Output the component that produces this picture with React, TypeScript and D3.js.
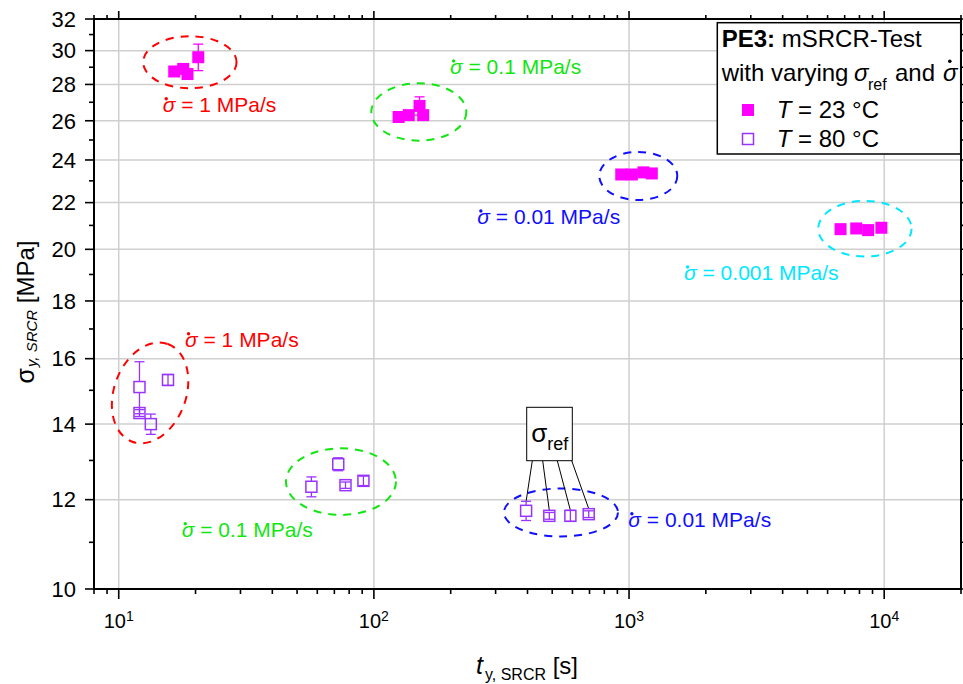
import React from 'react';
import * as d3 from 'd3';

// ---------- data ----------
const t23X = [16.5, 17.9, 18.6, 20.5, 125, 137, 151, 156, 932, 1026, 1139, 1228, 6745, 7770, 8650, 9750];
const t23Y = [28.75, 28.9, 28.6, 29.6, 26.2, 26.3, 26.8, 26.3, 23.3, 23.3, 23.4, 23.35, 20.84, 20.87, 20.8, 20.9];
const t23Err = [0.1, 0.1, 0.1, 0.8, 0.1, 0.1, 0.5, 0.1, 0.05, 0.05, 0.05, 0.05, 0.05, 0.05, 0.05, 0.05];

const t80X = [12.06, 12.06, 13.36, 15.6, 56.9, 72.5, 77.4, 91.0, 395, 487, 589, 695];
const t80Y = [15.1, 14.32, 14.0, 15.32, 12.32, 12.9, 12.36, 12.47, 11.73, 11.61, 11.61, 11.65];
const t80Err = [0.8, 0.1, 0.29, 0.17, 0.25, 0.17, 0.08, 0.12, 0.23, 0.08, 0.13, 0.08];

const yMajorTicks = [10, 12, 14, 16, 18, 20, 22, 24, 26, 28, 30, 32];
const yMinorTicks = [11, 13, 15, 17, 19, 21, 23, 25, 27, 29, 31];
const xDecades = [10, 100, 1000, 10000];
const xDecadeExp = ['1', '2', '3', '4'];

// group ellipses (centre in data units)
const ellCx = [19.0, 150, 1087, 8400, 13.27, 74.3, 541];
const ellCy = [29.3, 26.47, 23.23, 20.86, 14.92, 12.45, 11.69];
const ellColors = ['#ff0000', '#11e611', '#1010ff', '#00e8ff', '#ff0000', '#11e611', '#1010ff'];

const rateTexts = ['= 1 MPa/s', '= 0.1 MPa/s', '= 0.01 MPa/s', '= 0.001 MPa/s', '= 1 MPa/s', '= 0.1 MPa/s', '= 0.01 MPa/s'];

// ---------- layout / style ----------
const W = 963, H = 684;
const L = 94, R = 961, T = 19, B = 589;
const FONT = "'Liberation Sans', Arial, Helvetica, sans-serif";
const MAG = '#ff00ff';
const VIO = '#9933ff';
const ellR = [[46.7, 26, 0], [47.5, 28.7, 0], [39, 24, 0], [46.7, 27.8, 0], [52, 36, -70], [55, 33.3, 0], [57, 24, 0]];
const rateLabelPos = [[162.7, 111.7], [450, 74], [477.3, 224], [684, 280], [185, 346.7], [181.7, 536.7], [628.3, 526.7]];

const x = d3.scaleLog().domain([8, 20000]).range([L, R]);
const y = d3.scaleLog().domain([10, 32]).range([B, T]);

const xMinor = x.ticks().filter((v) => !xDecades.some((d) => Math.abs(d - v) < 1e-9));

function ErrBar({ cx, cy, e, color, half, cap = 5 }: any) {
  const yt = y(cy + e);
  const yb = y(cy - e);
  const py = y(cy);
  const px = x(cx);
  const segs: any[] = [];
  if (py - yt > half) {
    segs.push([yt, py - half]);
    segs.push([py + half, yb]);
  } else {
    segs.push([yt, yb]);
  }
  return (
    <g stroke={color} strokeWidth={1.3}>
      {segs.map((s, i) => (
        <line key={i} x1={px} x2={px} y1={s[0]} y2={s[1]} />
      ))}
      <line x1={px - cap} x2={px + cap} y1={yt} y2={yt} />
      <line x1={px - cap} x2={px + cap} y1={yb} y2={yb} />
    </g>
  );
}

function RateLabel({ px, py, color, text, fs = 21 }: any) {
  return (
    <g>
      <text x={px} y={py} fill={color} fontSize={fs} fontFamily={FONT}>
        <tspan fontStyle="italic">σ</tspan>
        <tspan> {text}</tspan>
      </text>
      <circle cx={px + 0.17 * fs} cy={py - 0.62 * fs} r={1.7} fill={color} />
    </g>
  );
}

export default function App() {
  const sz23 = 12;
  const sz80 = 11;
  const boxX = 526.7, boxY = 407.3, boxW = 45.6, boxH = 53.4;
  const leaderStarts = [5.6, 16, 30.6, 45];
  return (
    <svg
      width={W}
      height={H}
      viewBox={`0 0 ${W} ${H}`}
      style={{ position: 'absolute', left: 0, top: 0, display: 'block', background: '#fff' }}
      fontFamily={FONT}
    >
      <rect x={0} y={0} width={W} height={H} fill="#fff" />
      {/* grid */}
      <g stroke="#cfcfcf" strokeWidth={1.5}>
        {xDecades.map((d) => (
          <line key={d} x1={x(d)} x2={x(d)} y1={T} y2={B} />
        ))}
        {yMajorTicks.filter((v) => v !== 10 && v !== 32).map((v) => (
          <line key={v} x1={L} x2={R} y1={y(v)} y2={y(v)} />
        ))}
      </g>

      {/* ellipses */}
      {ellCx.map((c, i) => (
        <ellipse
          key={i}
          cx={0}
          cy={0}
          rx={ellR[i][0]}
          ry={ellR[i][1]}
          transform={`translate(${x(c)},${y(ellCy[i])}) rotate(${ellR[i][2]})`}
          fill="none"
          stroke={ellColors[i]}
          strokeWidth={2}
          strokeDasharray="8 7"
        />
      ))}

      {/* rate labels */}
      {rateTexts.map((t, i) => (
        <RateLabel key={i} px={rateLabelPos[i][0]} py={rateLabelPos[i][1]} color={ellColors[i]} text={t} />
      ))}

      {/* sigma_ref annotation */}
      <g stroke="#000" strokeWidth={1}>
        {leaderStarts.map((s, i) => {
          const idx = 8 + i;
          const ex = x(t80X[idx]);
          const ey = Math.min(y(t80Y[idx] + t80Err[idx]), y(t80Y[idx]) - sz80 / 2);
          return <line key={i} x1={boxX + s} y1={boxY + boxH} x2={ex} y2={ey} />;
        })}
      </g>
      <rect x={boxX} y={boxY} width={boxW} height={boxH} fill="#fff" stroke="#000" strokeWidth={1} />
      <text x={boxX + 4.5} y={boxY + 34.4} fontSize={26} fill="#000">
        σ
        <tspan fontSize={18} dy={8.3}>ref</tspan>
      </text>

      {/* 80 °C data */}
      {t80X.map((v, i) => (
        <ErrBar key={'e80' + i} cx={v} cy={t80Y[i]} e={t80Err[i]} color={VIO} half={sz80 / 2} />
      ))}
      {t80X.map((v, i) => (
        <rect
          key={'m80' + i}
          x={x(v) - sz80 / 2}
          y={y(t80Y[i]) - sz80 / 2}
          width={sz80}
          height={sz80}
          fill="none"
          stroke={VIO}
          strokeWidth={1.5}
        />
      ))}

      {/* 23 °C data */}
      {t23X.map((v, i) => (
        <ErrBar key={'e23' + i} cx={v} cy={t23Y[i]} e={t23Err[i]} color={MAG} half={0} />
      ))}
      {t23X.map((v, i) => (
        <rect key={'m23' + i} x={x(v) - sz23 / 2} y={y(t23Y[i]) - sz23 / 2} width={sz23} height={sz23} fill={MAG} />
      ))}

      {/* axes frame */}
      <g stroke="#000" strokeWidth={2} fill="none">
        <line x1={L} x2={L} y1={T - 1} y2={B + 1} />
        <line x1={L - 1} x2={R} y1={B} y2={B} />
        <line x1={L - 1} x2={R} y1={T} y2={T} />
        <line x1={R} x2={R} y1={T - 1} y2={B + 1} />
      </g>
      {/* ticks */}
      <g stroke="#000" strokeWidth={1.6}>
        {yMajorTicks.map((v) => (
          <g key={'ym' + v}>
            <line x1={L - 9} x2={L} y1={y(v)} y2={y(v)} />
            <line x1={R} x2={R + 9} y1={y(v)} y2={y(v)} />
          </g>
        ))}
        {yMinorTicks.map((v) => (
          <g key={'yn' + v}>
            <line x1={L - 5} x2={L} y1={y(v)} y2={y(v)} />
            <line x1={R} x2={R + 5} y1={y(v)} y2={y(v)} />
          </g>
        ))}
        {xDecades.map((d) => (
          <g key={'xm' + d}>
            <line x1={x(d)} x2={x(d)} y1={B} y2={B + 10} />
            <line x1={x(d)} x2={x(d)} y1={T} y2={T - 8} />
          </g>
        ))}
        {xMinor.map((v) => (
          <g key={'xn' + v}>
            <line x1={x(v)} x2={x(v)} y1={B} y2={B + 5} />
            <line x1={x(v)} x2={x(v)} y1={T} y2={T - 4} />
          </g>
        ))}
      </g>

      {/* tick labels */}
      {yMajorTicks.map((v) => (
        <text key={'yl' + v} x={76} y={y(v) + 7.8} textAnchor="end" fontSize={22} fill="#000">
          {v}
        </text>
      ))}
      {xDecades.map((d, i) => (
        <text key={'xl' + d} x={x(d)} y={628} textAnchor="middle" fontSize={20} fill="#000">
          10
          <tspan fontSize={14} dy={-7}>{xDecadeExp[i]}</tspan>
        </text>
      ))}

      {/* axis titles */}
      <text x={476} y={674} fontSize={25} fill="#000">
        <tspan fontStyle="italic">t</tspan>
        <tspan fontSize={16} dy={6} dx={2}>y, SRCR</tspan>
        <tspan fontSize={24} dy={-6}> [s]</tspan>
      </text>
      <text transform="translate(34,312) rotate(-90)" textAnchor="middle" fontSize={25} fill="#000">
        <tspan>σ</tspan>
        <tspan fontSize={15} fontStyle="italic" dy={3} dx={1}>y, SRCR</tspan>
        <tspan fontSize={24} dy={-3}> [MPa]</tspan>
      </text>

      {/* legend */}
      <rect x={717.3} y={22.7} width={243.4} height={131.3} fill="#fff" stroke="#000" strokeWidth={1.5} />
      <text x={721.7} y={47.3} fontSize={24} fill="#000">
        <tspan fontWeight="bold">PE3:</tspan>
        <tspan> mSRCR-Test</tspan>
      </text>
      <text x={721.7} y={81.3} fontSize={24} fill="#000">
        with varying
      </text>
      <text x={854} y={81.3} fontSize={24} fill="#000" fontStyle="italic">σ</text>
      <text x={868} y={89.7} fontSize={16} fill="#000">ref</text>
      <text x={895} y={81.3} fontSize={24} fill="#000">and</text>
      <text x={943} y={81.3} fontSize={24} fill="#000" fontStyle="italic">σ</text>
      <circle cx={949.8} cy={61.3} r={1.8} fill="#000" />
      <rect x={742} y={104} width={12} height={12} fill={MAG} />
      <text x={776.7} y={118} fontSize={24} fill="#000">
        <tspan fontStyle="italic">T</tspan>
        <tspan> = 23 °C</tspan>
      </text>
      <rect x={742.5} y={133.5} width={11} height={11} fill="#fff" stroke={VIO} strokeWidth={1.5} />
      <text x={776.7} y={147.3} fontSize={24} fill="#000">
        <tspan fontStyle="italic">T</tspan>
        <tspan> = 80 °C</tspan>
      </text>
    </svg>
  );
}
